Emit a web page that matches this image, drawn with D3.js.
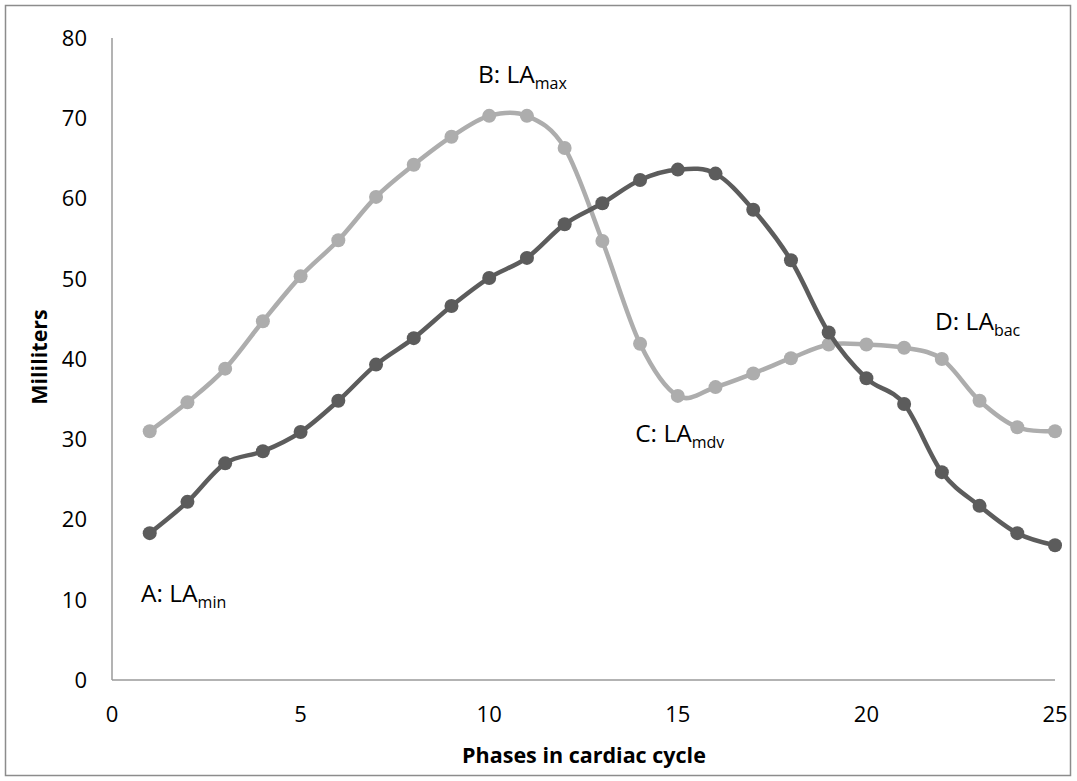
<!DOCTYPE html>
<html><head><meta charset="utf-8">
<script src="https://cdn.jsdelivr.net/npm/d3@7"></script>
<style>body{margin:0;background:#fff}svg{display:block}text{font-family:"Open Sans",sans-serif}</style>
</head><body><svg id="c" width="1077" height="781"></svg>
<script>
const phases = d3.range(1, 26);
const seriesLight = [31.0,34.6,38.8,44.7,50.3,54.8,60.2,64.2,67.7,70.3,70.3,66.3,54.7,41.9,35.4,36.5,38.2,40.1,41.8,41.8,41.4,40.0,34.8,31.5,31.0];
const seriesDark = [18.3,22.2,27.0,28.5,30.9,34.8,39.3,42.6,46.6,50.1,52.6,56.8,59.4,62.3,63.6,63.1,58.6,52.3,43.3,37.6,34.4,25.9,21.7,18.3,16.8];
const xTicks = [0,5,10,15,20,25];
const yTicks = [0,10,20,30,40,50,60,70,80];
const annotations = [
  {main:"A: LA", sub:"min", x:0.77, y:9.72},
  {main:"B: LA", sub:"max", x:9.70, y:74.4},
  {main:"C: LA", sub:"mdv", x:13.87, y:29.66},
  {main:"D: LA", sub:"bac", x:21.82, y:43.6}
];

const svg = d3.select("#c");
svg.append("rect").attr("x",5.5).attr("y",5.5).attr("width",1065).attr("height",770)
  .attr("fill","#fff").attr("stroke","#8c8c8c").attr("stroke-width",1.5);

const x = d3.scaleLinear().domain([0,25]).range([112,1055]);
const y = d3.scaleLinear().domain([0,80]).range([680,38]);

svg.append("line").attr("x1",x(0)).attr("x2",x(0)).attr("y1",y(80)).attr("y2",y(0)).attr("stroke","#9a9a9a").attr("stroke-width",1.5);
svg.append("line").attr("x1",x(0)).attr("x2",x(25)).attr("y1",y(0)).attr("y2",y(0)).attr("stroke","#9a9a9a").attr("stroke-width",1.5);

svg.selectAll(".yt").data(yTicks).enter().append("text")
  .attr("x",87).attr("y",d=>y(d)).attr("dy","0.36em").attr("text-anchor","end")
  .attr("font-size",22).attr("fill","#000").text(d=>d);
svg.selectAll(".xt").data(xTicks).enter().append("text")
  .attr("x",d=>x(d)).attr("y",722).attr("text-anchor","middle")
  .attr("font-size",22).attr("fill","#000").text(d=>d);

svg.append("text").attr("x",584).attr("y",763).attr("text-anchor","middle")
  .attr("font-size",21.5).attr("font-weight","bold").text("Phases in cardiac cycle");
svg.append("text").attr("transform","translate(47,357) rotate(-90)").attr("text-anchor","middle")
  .attr("font-size",21.5).attr("font-weight","bold").text("Mililiters");

const line = d3.line().x((d,i)=>x(phases[i])).y(d=>y(d)).curve(d3.curveCatmullRom.alpha(0));

function drawSeries(vals,color){
  svg.append("path").attr("d",line(vals)).attr("fill","none").attr("stroke",color).attr("stroke-width",4.5);
  svg.append("g").selectAll("circle").data(vals).enter().append("circle")
    .attr("cx",(d,i)=>x(phases[i])).attr("cy",d=>y(d)).attr("r",7).attr("fill",color);
}
drawSeries(seriesLight,"#adadad");
drawSeries(seriesDark,"#5c5c5c");

annotations.forEach(a=>{
  const t = svg.append("text").attr("x",x(a.x)).attr("y",y(a.y)).attr("font-size",24.5).attr("fill","#000");
  t.append("tspan").text(a.main);
  t.append("tspan").attr("font-size",16).attr("dy",6).text(a.sub);
});
</script></body></html>
